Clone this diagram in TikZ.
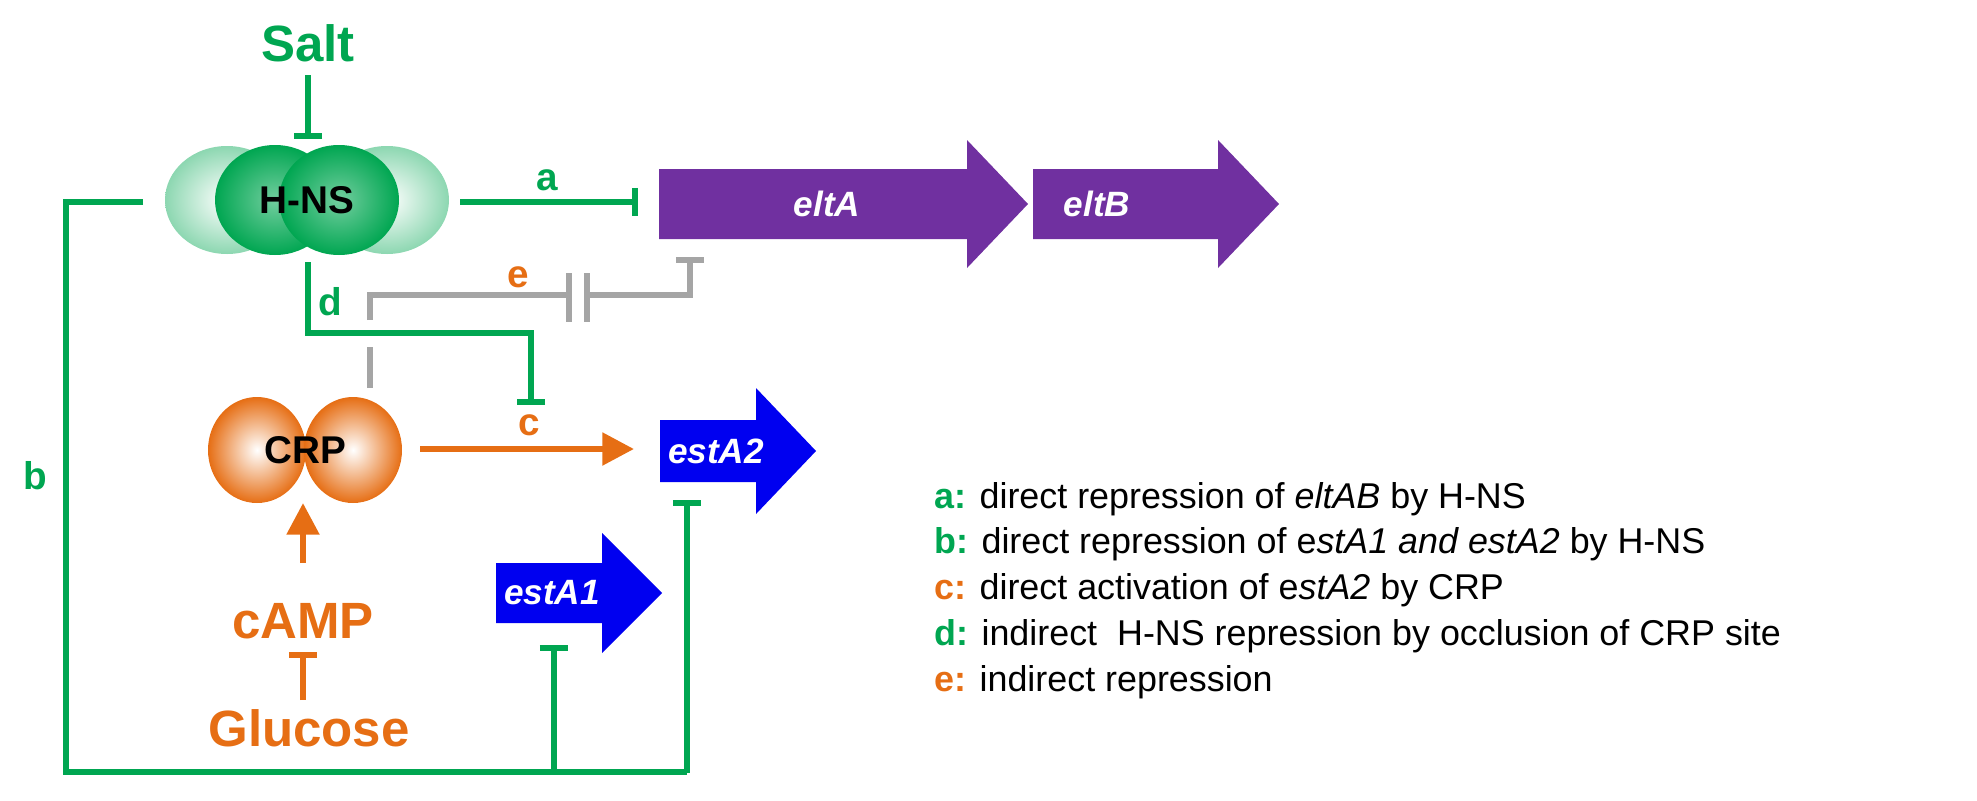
\documentclass[tikz,border=0pt]{standalone}
\usepackage{fontspec}
\setmainfont{Liberation Sans}
\usetikzlibrary{arrows.meta}
\definecolor{grn}{RGB}{0,166,81}
\definecolor{org}{RGB}{230,110,20}
\definecolor{pur}{RGB}{112,48,160}
\definecolor{blu}{RGB}{0,0,240}
\definecolor{gry}{RGB}{165,165,165}
\begin{document}
\begin{tikzpicture}[x=0.01cm,y=-0.01cm,
  ln/.style={line width=1.8pt},
  inh/.style={ln,-{Bar[width=8pt,line width=1.8pt]}},
  act/.style={ln,-{Triangle[width=9pt,length=9pt]}},
  big/.style={font=\fontsize{14.5}{16}\selectfont\bfseries},
  gene/.style={text=white,font=\fontsize{10}{12}\selectfont\bfseries\itshape},
  leg/.style={anchor=west,font=\fontsize{10.2}{12}\selectfont},
  lab/.style={font=\fontsize{11}{12}\selectfont\bfseries}]
\useasboundingbox (0,0) rectangle (1977,800);
% H-NS
\shade[inner color=white,outer color=grn!45] (227,200) ellipse (62 and 54);
\shade[inner color=white,outer color=grn!45] (387,200) ellipse (62 and 54);
\shade[inner color=grn!55,outer color=grn] (275,200) ellipse (60 and 55);
\shade[inner color=grn!55,outer color=grn] (339,200) ellipse (60 and 55);
\node[font=\fontsize{11}{12}\selectfont\bfseries] (hns) at (307,200) {H-NS};
% CRP
\shade[inner color=white,outer color=org] (257,450) ellipse (49 and 53);
\shade[inner color=white,outer color=org] (353,450) ellipse (49 and 53);
\node[font=\fontsize{11}{12}\selectfont\bfseries] (crp) at (305,450) {CRP};
% genes
\fill[pur] (659,169) -- (967,169) -- (967,140) -- (1028,204) -- (967,268) -- (967,239) -- (659,239) -- cycle;
\fill[pur] (1033,169) -- (1218,169) -- (1218,140) -- (1279,204) -- (1218,268) -- (1218,239) -- (1033,239) -- cycle;
\node[gene] (eltA) at (827,204) {eltA};
\node[gene] (eltB) at (1097,204) {eltB};
\fill[blu] (660,420) -- (756,420) -- (756,388) -- (816,451) -- (756,514) -- (756,482) -- (660,482) -- cycle;
\node[gene] (estA2) at (716,451) {estA2};
\fill[blu] (496,563) -- (602,563) -- (602,533) -- (662,593) -- (602,653) -- (602,623) -- (496,623) -- cycle;
\node[gene] (estA1) at (552,593) {estA1};
% texts
\node[big,text=grn] (salt) at (308,43) {Salt};
\node[big,text=org] (camp) at (303,621) {cAMP};
\node[big,text=org] (glu) at (309,728) {Glucose};
% coordinates
\coordinate (s1) at (308,75); \coordinate (s2) at (308,139);
\coordinate (a1) at (460,202); \coordinate (a2) at (638,202);
\coordinate (d1) at (308,262); \coordinate (d2) at (531,405);
\coordinate (c1) at (420,449); \coordinate (c2) at (634,449);
\coordinate (m1) at (303,563); \coordinate (m2) at (303,503);
\coordinate (g1) at (303,700); \coordinate (g2) at (303,652);
\coordinate (b0) at (143,202);
\coordinate (b1) at (554,772); \coordinate (b2) at (554,645);
\coordinate (b3) at (687,500);
\coordinate (e0) at (370,388); \coordinate (e1) at (569,295);
\coordinate (e2) at (587,295); \coordinate (e3) at (690,257);
% green
\draw[inh,grn] (s1) -- (s2);
\draw[inh,grn] (a1) -- (a2);
\node[lab,text=grn] (la) at (547,180) {a};
\draw[inh,grn] (d1) |- (531,333) -- (d2);
\node[lab,text=grn] (ld) at (330,302) {d};
\draw[ln,grn] (b0) -- (66,202) |- (687,772);
\draw[inh,grn] (b1) -- (b2);
\draw[inh,grn] (687,773) -- (b3);
\node[lab,text=grn] (lb) at (35,476) {b};
% orange
\draw[act,org] (c1) -- (c2);
\node[lab,text=org] (lc) at (529,425) {c};
\draw[act,org] (m1) -- (m2);
\draw[inh,org] (g1) -- (g2);
% gray
\draw[ln,gry] (e0) -- (370,347);
\draw[ln,gry] (370,320) |- (e1);
\draw[ln,gry] (569,273) -- (569,322);
\draw[ln,gry] (587,273) -- (587,322);
\draw[ln,gry,-{Bar[width=8pt,line width=1.8pt]}] (e2) -| (e3);
\node[lab,text=org] (le) at (518,277) {e};
% legend
\node[leg] (L1) at (922,499) {\textbf{\color{grn}a:} direct repression of \textit{eltAB} by H-NS};
\node[leg] (L2) at (922,544) {\textbf{\color{grn}b:} direct repression of e\textit{stA1 and estA2} by H-NS};
\node[leg] (L3) at (922,590) {\textbf{\color{org}c:} direct activation of e\textit{stA2} by CRP};
\node[leg] (L4) at (922,636) {\textbf{\color{grn}d:} indirect \ H-NS repression by occlusion of CRP site};
\node[leg] (L5) at (922,682) {\textbf{\color{org}e:} indirect repression};
\end{tikzpicture}
\end{document}
